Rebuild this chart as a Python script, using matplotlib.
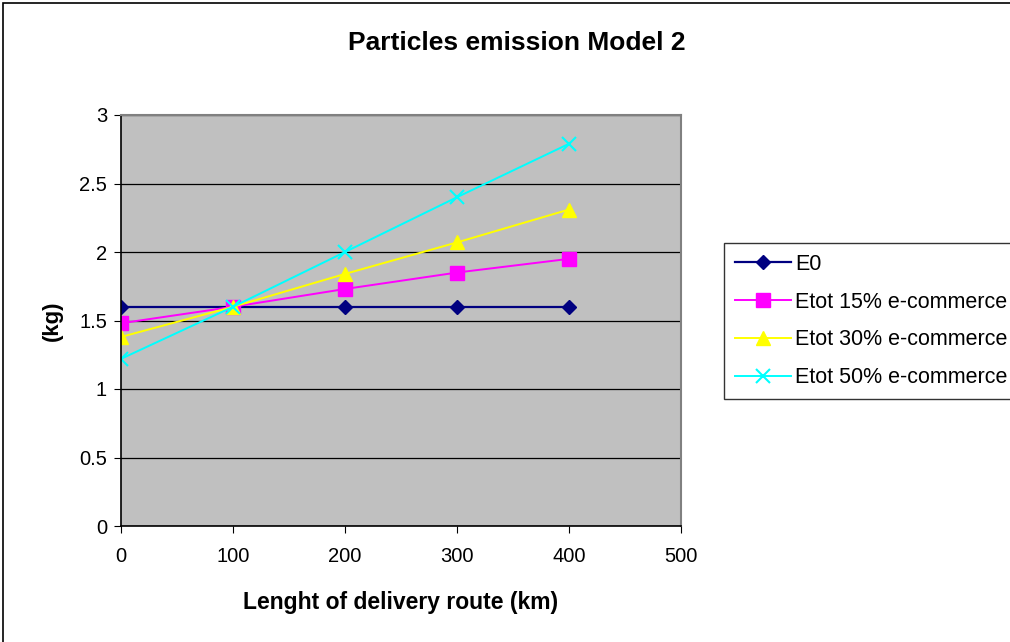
import matplotlib.pyplot as plt
from matplotlib.patches import Rectangle

plt.rcParams['font.family'] = ['Liberation Sans', 'DejaVu Sans']

# route length (km)
route_km = [0, 100, 200, 300, 400]

# emissions (kg)
e0 = [1.6, 1.6, 1.6, 1.6, 1.6]
etot_15 = [1.48, 1.6, 1.73, 1.85, 1.95]
etot_30 = [1.38, 1.6, 1.84, 2.07, 2.31]
etot_50 = [1.22, 1.6, 2.0, 2.4, 2.79]

labels = ['E0', 'Etot 15% e-commerce', 'Etot 30% e-commerce', 'Etot 50% e-commerce']

fig = plt.figure(figsize=(10.1, 6.42), dpi=100)
ax = fig.add_axes([121 / 1010, 1 - 526 / 642, 560 / 1010, 411 / 642])
ax.set_facecolor('#C0C0C0')

ax.plot(route_km, e0, color='#000080', marker='D', markersize=7, lw=1.6, label=labels[0])
ax.plot(route_km, etot_15, color='#FF00FF', marker='s', markersize=10, lw=1.4, label=labels[1])
ax.plot(route_km, etot_30, color='#FFFF00', marker='^', markersize=10, lw=1.4, label=labels[2])
ax.plot(route_km, etot_50, color='#00FFFF', marker='x', markersize=10, mew=1.5, lw=1.4, label=labels[3])

ax.set_xlim(0, 500)
ax.set_ylim(0, 3)
ax.set_xticks([0, 100, 200, 300, 400, 500])
ax.set_yticks([0, 0.5, 1, 1.5, 2, 2.5, 3])
ax.set_yticklabels(['0', '0.5', '1', '1.5', '2', '2.5', '3'])
ax.yaxis.grid(True, color='black', lw=0.9)
ax.set_axisbelow(True)
ax.tick_params(labelsize=14.5, length=5, direction='out', pad=5)
ax.tick_params(axis='x', pad=10)

for s in ['top', 'right']:
    ax.spines[s].set_color('#808080')
    ax.spines[s].set_linewidth(1.5)
for s in ['left', 'bottom']:
    ax.spines[s].set_color('black')
    ax.spines[s].set_linewidth(1.2)

ax.set_xlabel('Lenght of delivery route (km)', fontsize=16.5, fontweight='bold', labelpad=18)
ax.set_ylabel('(kg)', fontsize=16, fontweight='bold', labelpad=12)
fig.text(0.512, 1 - 43 / 642, 'Particles emission Model 2', ha='center', va='center',
         fontsize=19, fontweight='bold')

leg = fig.legend(loc='upper left', bbox_to_anchor=(724 / 1010, 1 - 243 / 642),
                 fontsize=15.5, frameon=True, fancybox=False, borderpad=0.5,
                 handlelength=2.6, labelspacing=0.78, handletextpad=0.2, borderaxespad=0)
leg.get_frame().set_edgecolor('black')
leg.get_frame().set_linewidth(1.0)

# outer chart border
fig.patches.append(Rectangle((3 / 1010, -0.05), 1.1, 1 - 3 / 642 + 0.05, transform=fig.transFigure,
                             fill=False, edgecolor='black', lw=1.2))

fig.savefig('out.png', dpi=100)
